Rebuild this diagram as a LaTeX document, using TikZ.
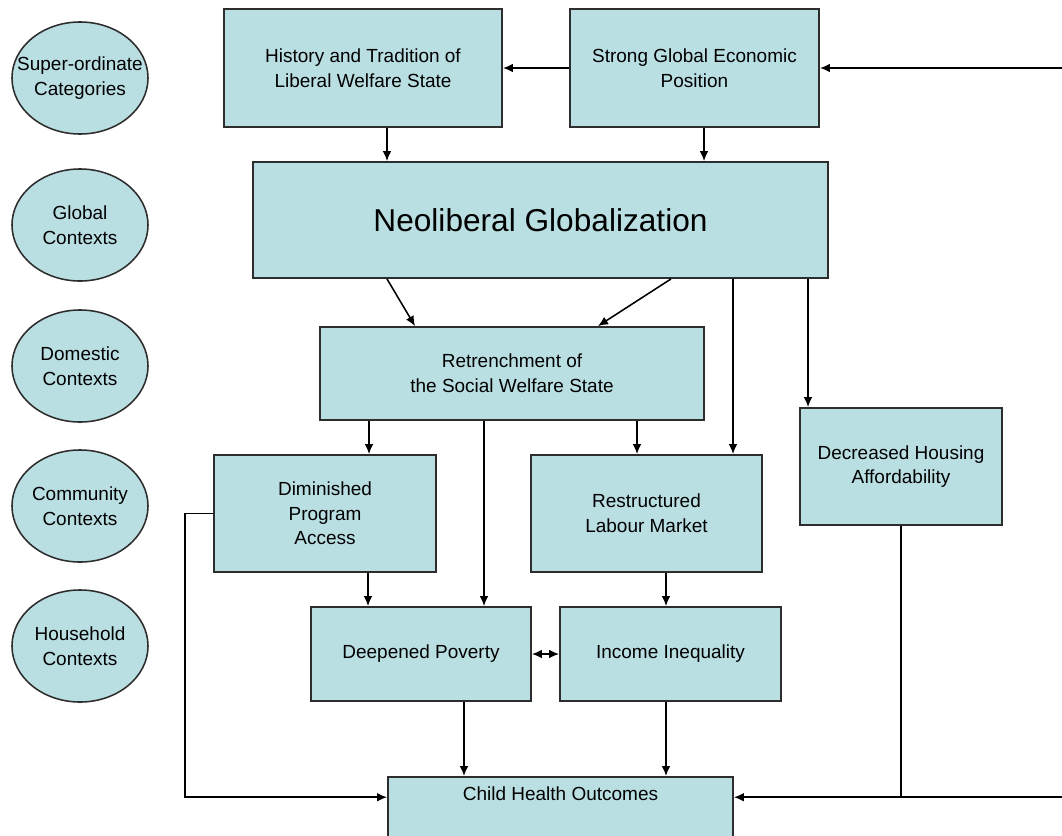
\documentclass[tikz,border=0pt]{standalone}
\usepackage{fontspec}
\setmainfont{Liberation Sans}
\usepackage{tikz}
\usetikzlibrary{arrows.meta,positioning,calc,shapes.geometric}

\definecolor{boxfill}{RGB}{186,223,227}
\definecolor{boxline}{RGB}{45,45,45}
\newcommand{\ctxlines}[2]{\makebox[0pt]{#1}\\\makebox[0pt]{#2}}

\begin{document}
\begin{tikzpicture}[>={Latex[length=2.5mm,width=2.2mm]}, x=0.025cm, y=-0.025cm, line width=1.1pt]

  % Styles
  \tikzset{
    box/.style={draw=boxline, fill=boxfill, rectangle, line width=1.3pt, inner sep=0pt, align=center,
      font=\fontsize{13.5}{17.5}\selectfont},
    ctx/.style={draw=boxline, fill=boxfill, ellipse, line width=1.1pt, inner sep=0pt,
      minimum width=3.4cm, minimum height=2.8cm, align=center,
      font=\fontsize{13.5}{17.5}\selectfont}
  }

  \useasboundingbox (0,0) rectangle (1062,835);
  \clip (0,0) rectangle (1062,835);

  % Level labels on the left
  \node[ctx] (lvl_super)     at (80,78)  {\ctxlines{Super-ordinate}{Categories}};
  \node[ctx] (lvl_global)    at (80,225) {\ctxlines{Global}{Contexts}};
  \node[ctx] (lvl_domestic)  at (80,366) {\ctxlines{Domestic}{Contexts}};
  \node[ctx] (lvl_community) at (80,506) {\ctxlines{Community}{Contexts}};
  \node[ctx] (lvl_household) at (80,646) {\ctxlines{Household}{Contexts}};

  % Super-ordinate row
  \node[box, minimum width=6.95cm, minimum height=2.95cm] (hist) at (363,68)
    {History and Tradition of\\Liberal Welfare State};
  \node[box, minimum width=6.225cm, minimum height=2.95cm] (econ) at (694.5,68)
    {Strong Global Economic\\Position};

  % Global context
  \node[box, minimum width=14.375cm, minimum height=2.9cm, font=\fontsize{22.5}{27}\selectfont] (neo) at (540.5,220)
    {Neoliberal Globalization};

  % Domestic context
  \node[box, minimum width=9.6cm, minimum height=2.325cm] (retr) at (512,373.5)
    {Retrenchment of\\the Social Welfare State};

  % Community contexts
  \node[box, minimum width=5.55cm, minimum height=2.925cm] (prog) at (325,513.5)
    {Diminished\\Program\\Access};
  \node[box, minimum width=5.775cm, minimum height=2.925cm] (labour) at (646.5,513.5)
    {Restructured\\Labour Market};
  \node[box, minimum width=5.05cm, minimum height=2.925cm] (housing) at (901,466.5)
    {Decreased Housing\\Affordability};

  % Household contexts
  \node[box, minimum width=5.5cm, minimum height=2.35cm] (pov) at (421,654) {Deepened Poverty};
  \node[box, minimum width=5.525cm, minimum height=2.35cm] (ineq) at (670.5,654) {Income Inequality};

  % Outcome (runs off the bottom edge)
  \node[box, anchor=north, minimum width=8.625cm, text height=0.6cm, text depth=2cm] (child) at (560.5,776)
    {Child Health Outcomes};

  % Free ends at the right edge
  \coordinate (rim_top) at (1062,0 |- econ.east);
  \coordinate (rim_bot) at (1062,0 |- child.mid east);

  % Top rows
  \draw[->] (econ.west) -- (hist.east);
  \draw[->] (rim_top) -- (econ.east);
  \draw[->] (387,0 |- hist.south) -- (387,0 |- neo.north);
  \draw[->] (704,0 |- econ.south) -- (704,0 |- neo.north);

  % From globalization
  \draw[->] (387,0 |- neo.south) -- (415,0 |- retr.north);
  \draw[->] (671,0 |- neo.south) -- (598,0 |- retr.north);
  \draw[->] (733,0 |- neo.south) -- (733,0 |- labour.north);
  \draw[->] (808,0 |- neo.south) -- (808,0 |- housing.north);

  % From retrenchment
  \draw[->] (369,0 |- retr.south) -- (369,0 |- prog.north);
  \draw[->] (484,0 |- retr.south) -- (484,0 |- pov.north);
  \draw[->] (637,0 |- retr.south) -- (637,0 |- labour.north);

  % Community to household
  \draw[->] (368,0 |- prog.south) -- (368,0 |- pov.north);
  \draw[->] (666,0 |- labour.south) -- (666,0 |- ineq.north);
  \draw[<->] (pov.east) -- (ineq.west);

  % Into child health
  \draw[->] (464,0 |- pov.south) -- (464,0 |- child.north);
  \draw[->] (666,0 |- ineq.south) -- (666,0 |- child.north);
  \draw[->] (prog.west) -- ++(-28,0) |- (child.mid west);
  \draw[->] (rim_bot) -- (child.mid east);
  \draw (housing.south) -- (housing.south |- child.mid east);

\end{tikzpicture}
\end{document}
